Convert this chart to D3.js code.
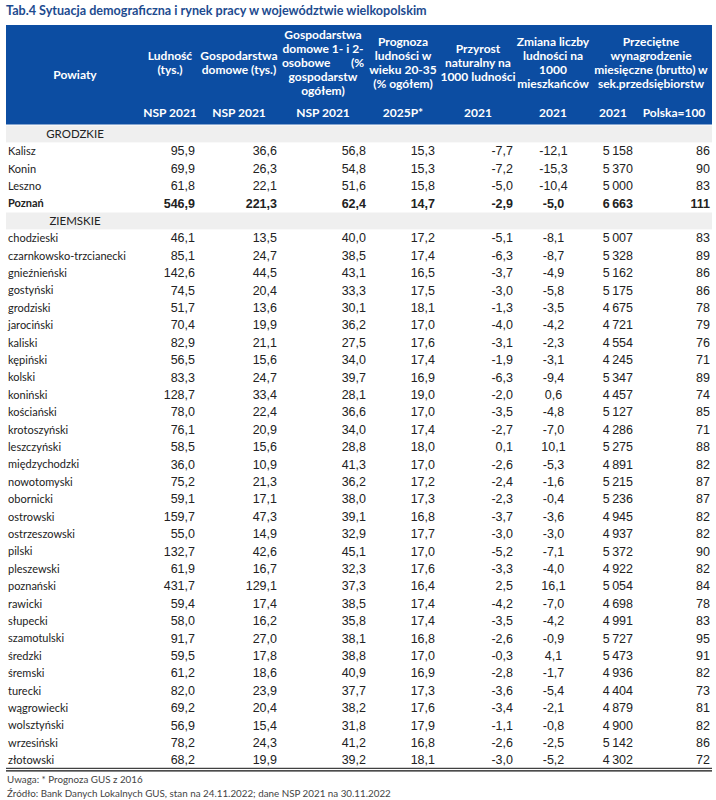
<!DOCTYPE html>
<html><head><meta charset="utf-8">
<script src="https://cdn.jsdelivr.net/npm/d3@7"></script>
<style>
html,body{margin:0;padding:0;background:#fff;}
svg{display:block;}
</style></head>
<body>
<script>
const groups = ["GRODZKIE", "ZIEMSKIE"];
const grodzkie = ["Kalisz", "Konin", "Leszno", "Poznań"];
const ziemskie = ["chodzieski", "czarnkowsko-trzcianecki", "gnieźnieński", "gostyński", "grodziski", "jarociński", "kaliski", "kępiński", "kolski", "koniński", "kościański", "krotoszyński", "leszczyński", "międzychodzki", "nowotomyski", "obornicki", "ostrowski", "ostrzeszowski", "pilski", "pleszewski", "poznański", "rawicki", "słupecki", "szamotulski", "średzki", "śremski", "turecki", "wągrowiecki", "wolsztyński", "wrzesiński", "złotowski"];
const ludnosc = [95.9, 69.9, 61.8, 546.9, 46.1, 85.1, 142.6, 74.5, 51.7, 70.4, 82.9, 56.5, 83.3, 128.7, 78.0, 76.1, 58.5, 36.0, 75.2, 59.1, 159.7, 55.0, 132.7, 61.9, 431.7, 59.4, 58.0, 91.7, 59.5, 61.2, 82.0, 69.2, 56.9, 78.2, 68.2];
const gospodarstwa = [36.6, 26.3, 22.1, 221.3, 13.5, 24.7, 44.5, 20.4, 13.6, 19.9, 21.1, 15.6, 24.7, 33.4, 22.4, 20.9, 15.6, 10.9, 21.3, 17.1, 47.3, 14.9, 42.6, 16.7, 129.1, 17.4, 16.2, 27.0, 17.8, 18.6, 23.9, 20.4, 15.4, 24.3, 19.9];
const gosp12 = [56.8, 54.8, 51.6, 62.4, 40.0, 38.5, 43.1, 33.3, 30.1, 36.2, 27.5, 34.0, 39.7, 28.1, 36.6, 34.0, 28.8, 41.3, 36.2, 38.0, 39.1, 32.9, 45.1, 32.3, 37.3, 38.5, 35.8, 38.1, 38.8, 40.9, 37.7, 38.2, 31.8, 41.2, 39.2];
const prognoza = [15.3, 15.3, 15.8, 14.7, 17.2, 17.4, 16.5, 17.5, 18.1, 17.0, 17.6, 17.4, 16.9, 19.0, 17.0, 17.4, 18.0, 17.0, 17.2, 17.3, 16.8, 17.7, 17.0, 17.6, 16.4, 17.4, 17.4, 16.8, 17.0, 16.9, 17.3, 17.6, 17.9, 16.8, 18.1];
const przyrost = [-7.7, -7.2, -5.0, -2.9, -5.1, -6.3, -3.7, -3.0, -1.3, -4.0, -3.1, -1.9, -6.3, -2.0, -3.5, -2.7, 0.1, -2.6, -2.4, -2.3, -3.7, -3.0, -5.2, -3.3, 2.5, -4.2, -3.5, -2.6, -0.3, -2.8, -3.6, -3.4, -1.1, -2.6, -3.0];
const zmiana = [-12.1, -15.3, -10.4, -5.0, -8.1, -8.7, -4.9, -5.8, -3.5, -4.2, -2.3, -3.1, -9.4, 0.6, -4.8, -7.0, 10.1, -5.3, -1.6, -0.4, -3.6, -3.0, -7.1, -4.0, 16.1, -7.0, -4.2, -0.9, 4.1, -1.7, -5.4, -2.1, -0.8, -2.5, -5.2];
const wynagrodzenie = [5158, 5370, 5000, 6663, 5007, 5328, 5162, 5175, 4675, 4721, 4554, 4245, 5347, 4457, 5127, 4286, 5275, 4891, 5215, 5236, 4945, 4937, 5372, 4922, 5054, 4698, 4991, 5727, 5473, 4936, 4404, 4879, 4900, 5142, 4302];
const polska100 = [86, 90, 83, 111, 83, 89, 86, 86, 78, 79, 76, 71, 89, 74, 85, 71, 88, 82, 87, 87, 82, 82, 90, 82, 84, 78, 83, 95, 91, 82, 73, 81, 82, 86, 72];
const boldRows = ["Poznań"];

const headerTitles = [
  ["Ludność", "(tys.)"],
  ["Gospodarstwa", "domowe (tys.)"],
  ["Gospodarstwa", "domowe 1- i 2-", "osobowe       (%", "gospodarstw", "ogółem)"],
  ["Prognoza", "ludności w", "wieku 20-35", "(% ogółem)"],
  ["Przyrost", "naturalny na", "1000 ludności"],
  ["Zmiana liczby", "ludności na", "1000", "mieszkańców"],
  ["Przeciętne", "wynagrodzenie", "miesięczne (brutto) w", "sek.przedsiębiorstw"]
];
const headerSubs = ["NSP 2021", "NSP 2021", "NSP 2021", "2025P*", "2021", "2021", "2021", "Polska=100"];
const title = "Tab.4 Sytuacja demograficzna i rynek pracy w województwie wielkopolskim";
const notes = ["Uwaga: * Prognoza GUS z 2016", "Źródło: Bank Danych Lokalnych GUS, stan na 24.11.2022; dane NSP 2021 na 30.11.2022"];

const W = 716, H = 800;
const loc = d3.formatLocale({decimal: ",", thousands: "\u2009", grouping: [3], currency: ["", ""], minus: "-"});
const f1 = loc.format(".1f");
const fInt = d3.format("d");
const fWage = v => { const s = String(v); return s.length > 3 ? s.slice(0, s.length - 3) + "\u2009" + s.slice(-3) : s; };

const rows = [];
rows.push({type: "group", label: groups[0]});
grodzkie.forEach((n, i) => rows.push({type: "data", label: n, i}));
rows.push({type: "group", label: groups[1]});
ziemskie.forEach((n, i) => rows.push({type: "data", label: n, i: i + grodzkie.length}));
rows.forEach((r, k) => r.key = k);

const left = 6, right = 712;
const headTop = 25, headBottom = 124.5;
const y = d3.scaleBand().domain(rows.map(r => r.key)).range([125, 125 + rows.length * 17.4]).padding(0);

const cols = [
  {vals: ludnosc, fmt: f1, x: 195, anchor: "end"},
  {vals: gospodarstwa, fmt: f1, x: 277, anchor: "end"},
  {vals: gosp12, fmt: f1, x: 366, anchor: "end"},
  {vals: prognoza, fmt: f1, x: 435, anchor: "end"},
  {vals: przyrost, fmt: f1, x: 513, anchor: "end"},
  {vals: zmiana, fmt: f1, x: 553.5, anchor: "middle"},
  {vals: wynagrodzenie, fmt: fWage, x: 633, anchor: "end"},
  {vals: polska100, fmt: fInt, x: 710, anchor: "end"}
];
const headCenters = [170, 239, 323, 403, 478, 553, 651];
const subCenters = [170, 239, 323, 403, 478, 553, 613, 674];

const svg = d3.select("body").append("svg").attr("width", W).attr("height", H);
const headFont = "Lato, 'Open Sans', sans-serif";
const numFont = "'Liberation Sans Narrow', 'Liberation Sans', Arial, sans-serif";

svg.append("text").attr("x", 6).attr("y", 15).text(title)
  .attr("font-family", headFont).attr("font-weight", 700).attr("font-size", 12.6).attr("fill", "#1d4b8f");

svg.append("rect").attr("x", left).attr("y", headTop).attr("width", right - left).attr("height", headBottom - headTop).attr("fill", "#0c4da2");

svg.append("text").attr("x", 75).attr("y", 79).attr("text-anchor", "middle").text("Powiaty")
  .attr("font-family", headFont).attr("font-weight", 700).attr("font-size", 12).attr("fill", "#fff");

headerTitles.forEach((lines, c) => {
  const n = lines.length, lh = 14;
  const y0 = 63 - (n - 1) * lh / 2 + 4.2;
  const t = svg.append("text").attr("text-anchor", "middle").attr("font-family", headFont)
    .attr("font-weight", 700).attr("font-size", 12).attr("fill", "#fff").style("white-space", "pre");
  lines.forEach((l, k) => t.append("tspan").attr("x", headCenters[c]).attr("y", y0 + k * lh).text(l));
});
headerSubs.forEach((s, c) => {
  svg.append("text").attr("x", subCenters[c]).attr("y", 116.5).attr("text-anchor", "middle").text(s)
    .attr("font-family", headFont).attr("font-weight", 700).attr("font-size", 12).attr("fill", "#fff");
});

const g = svg.append("g");
rows.forEach(r => {
  const yt = y(r.key), yc = yt + y.bandwidth() / 2;
  if (r.type === "group") {
    g.append("rect").attr("x", left).attr("y", yt + 0.5).attr("width", right - left).attr("height", y.bandwidth() - 0.5).attr("fill", "#efefef");
    g.append("text").attr("x", 75).attr("y", yc + 4).attr("text-anchor", "middle").text(r.label)
      .attr("font-family", headFont).attr("font-size", 11.5).attr("fill", "#222");
    return;
  }
  const bold = boldRows.includes(r.label);
  g.append("text").attr("x", 8).attr("y", yc + 4).text(r.label)
    .attr("font-family", headFont).attr("font-weight", bold ? 700 : 400).attr("font-size", 11).attr("fill", "#222");
  cols.forEach(c => {
    g.append("text").attr("x", c.x).attr("y", yc + 4.3).attr("text-anchor", c.anchor).text(c.fmt(c.vals[r.i]))
      .attr("font-family", numFont).attr("font-weight", bold ? 700 : 400).attr("font-size", 12.5).attr("fill", "#222");
  });
});

const yEnd = y.range()[1];
svg.append("line").attr("x1", left).attr("x2", right).attr("y1", yEnd - 0.5).attr("y2", yEnd - 0.5).attr("stroke", "#111").attr("stroke-width", 1);
svg.append("line").attr("x1", left).attr("x2", right).attr("y1", yEnd + 2).attr("y2", yEnd + 2).attr("stroke", "#111").attr("stroke-width", 1.2);

notes.forEach((n, k) => {
  svg.append("text").attr("x", 7).attr("y", 783 + k * 14).text(n)
    .attr("font-family", headFont).attr("font-size", 9.8).attr("fill", "#444");
});
</script>
</body></html>
